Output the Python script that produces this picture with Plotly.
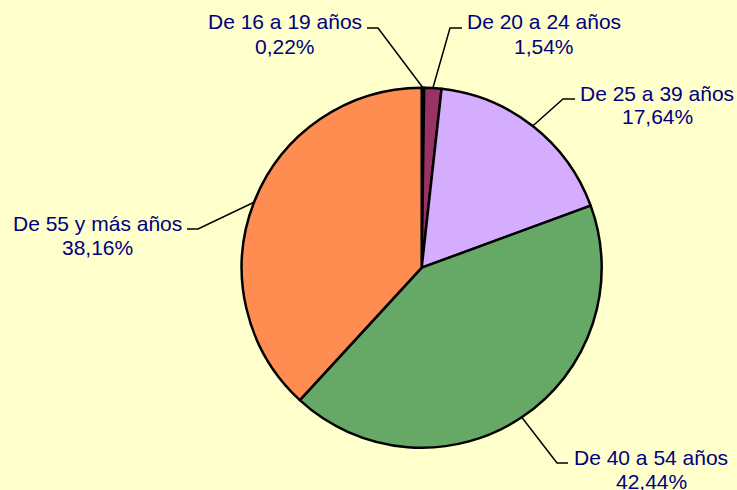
import math
import plotly.graph_objects as go

# ---- data ----
categories = ["De 16 a 19 años", "De 20 a 24 años", "De 25 a 39 años",
              "De 40 a 54 años", "De 55 y más años"]
values = [0.22, 1.54, 17.64, 42.44, 38.16]
pct_labels = ["0,22%", "1,54%", "17,64%", "42,44%", "38,16%"]

# ---- style ----
colors = ["#1c1c3c", "#993366", "#D4ADFF", "#66A866", "#FF8C50"]
BG = "#FFFFCC"
TEXT_COLOR = "#000080"
W, H = 737, 490
CX, CY, R = 421.7, 267.7, 180.0
FONT = dict(family="Liberation Sans, Arial, sans-serif", size=21, color=TEXT_COLOR)
LINE_PITCH = 24
# label placement per slice: (text centre x, first-line centre y, elbow x, line end x)
label_layout = [
    (285, 22, 378, 367),
    (544, 22, 450, 462),
    (657, 93, 563, 575),
    (651, 457, 557, 568),
    (97, 223, 198, 187),
]

def px(x, y):
    return x / W, 1 - y / H

fig = go.Figure(go.Pie(
    labels=categories, values=values, sort=False, direction="clockwise",
    rotation=0, textinfo="none", hoverinfo="label+percent",
    marker=dict(colors=colors, line=dict(color="black", width=2.5)),
    domain=dict(x=[(CX - R) / W, (CX + R) / W],
                y=[1 - (CY + R) / H, 1 - (CY - R) / H]),
    showlegend=False,
))

total = sum(values)
cum = 0.0
shapes, annotations = [], []
for cat, v, pl, (tx, ty, ex, lx) in zip(categories, values, pct_labels, label_layout):
    mid = (cum + v / 2) / total * 2 * math.pi
    cum += v
    sx = CX + R * math.sin(mid)
    sy = CY - R * math.cos(mid)
    ey = ty + 6
    p0 = px(sx, sy); p1 = px(ex, ey); p2 = px(lx, ey)
    shapes.append(dict(type="path", xref="paper", yref="paper",
                       path=f"M {p0[0]} {p0[1]} L {p1[0]} {p1[1]} L {p2[0]} {p2[1]}",
                       line=dict(color="black", width=1.5)))
    for i, t in enumerate([cat, pl]):
        ax, ay = px(tx, ty + i * LINE_PITCH)
        annotations.append(dict(text=t, x=ax, y=ay, xref="paper", yref="paper",
                                xanchor="center", yanchor="middle",
                                showarrow=False, font=FONT))

fig.update_layout(width=W, height=H, autosize=False,
                  margin=dict(l=0, r=0, t=0, b=0),
                  paper_bgcolor=BG, plot_bgcolor=BG,
                  shapes=shapes, annotations=annotations)
fig.write_html("out.html", config={"displayModeBar": False},
               post_script="document.body.style.margin='0';document.body.style.overflow='hidden';")
